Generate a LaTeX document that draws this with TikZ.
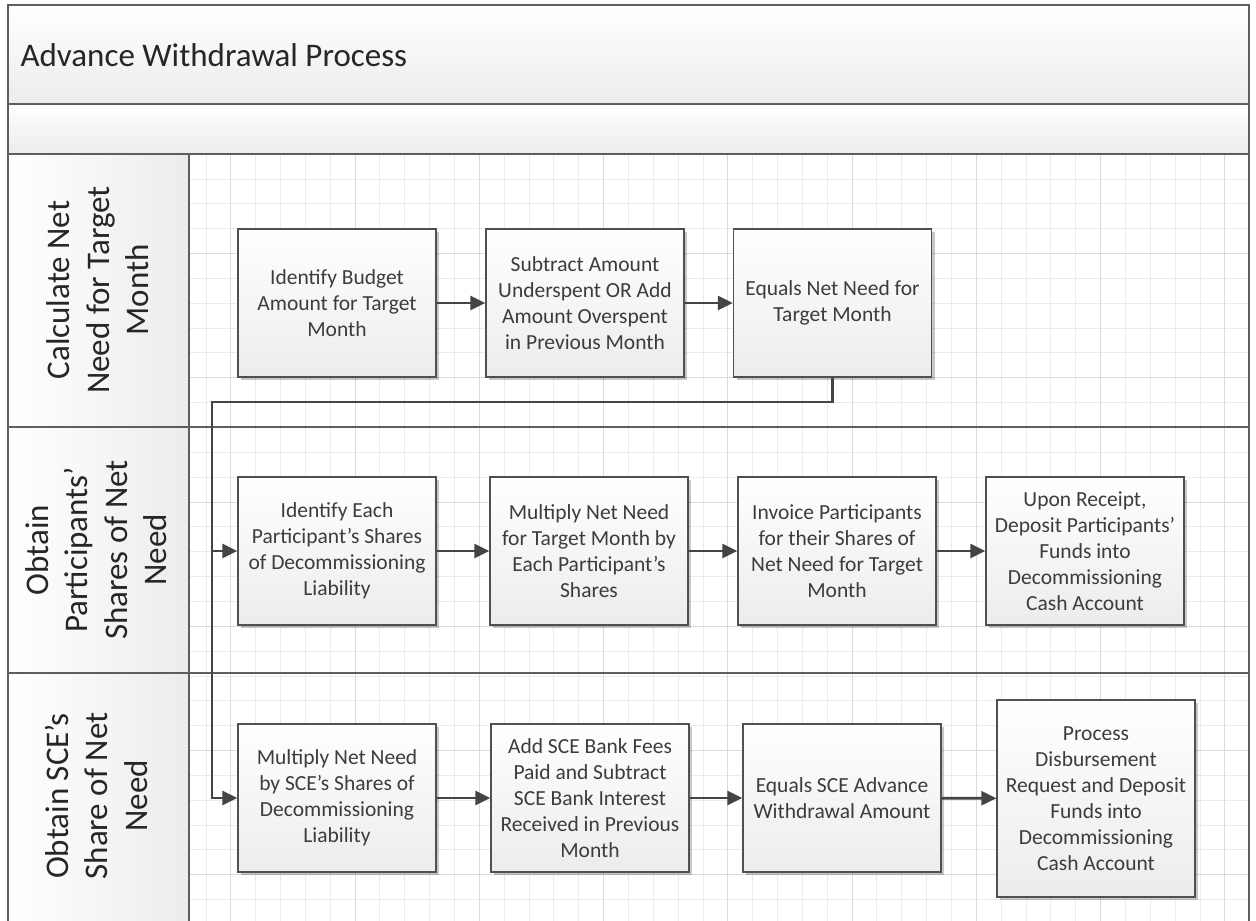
\documentclass[tikz,border=0pt]{standalone}
\usepackage{fontspec}
\setmainfont{Carlito}
\usetikzlibrary{shadows,arrows.meta}
\definecolor{framec}{HTML}{5E5E5E}
\definecolor{gridminor}{HTML}{EBEBEB}
\definecolor{gridmajor}{HTML}{DADADA}
\definecolor{boxline}{HTML}{505050}
\definecolor{boxtext}{HTML}{3C3C3C}
\definecolor{lanetext}{HTML}{262626}
\definecolor{fadegray}{HTML}{ECECEC}
\definecolor{connc}{HTML}{444444}
\tikzset{
  frameline/.style={draw=framec, line width=1.4pt},
  band/.style={frameline, top color=white, bottom color=fadegray},
  lanehead/.style={frameline, left color=white, right color=fadegray},
  lanelabel/.style={rotate=90, align=center, text=lanetext, font=\fontsize{33}{39.5}\selectfont},
  stepbox/.style={draw=boxline, line width=1.4pt, top color=white, bottom color=fadegray,
    minimum width=198pt, minimum height=148pt, inner sep=0pt, align=center, text=boxtext,
    font=\fontsize{21.5}{26}\selectfont,
    drop shadow={shadow xshift=3pt, shadow yshift=-3pt, opacity=0.22, fill=black}},
  conn/.style={draw=connc, line width=2.6pt, -{Triangle[length=15pt,width=14pt]}},
  connplain/.style={draw=connc, line width=2.6pt}
}
\begin{document}
\begin{tikzpicture}[x=1pt,y=-1pt]
\useasboundingbox (0,0) rectangle (1256,921);
\fill[white] (0,0) rectangle (1256,921);
% grid
\foreach \i in {0,...,41} {\draw[gridminor, line width=1pt] ({206+24.85*\i},154) -- ({206+24.85*\i},921);}
\foreach \i in {0,...,29} {\draw[gridminor, line width=1pt] (189,{179+24.85*\i}) -- (1249,{179+24.85*\i});}
\foreach \i in {0,...,8} {\draw[gridmajor, line width=1pt] ({230.85+124.25*\i},154) -- ({230.85+124.25*\i},921);}
\foreach \i in {0,...,5} {\draw[gridmajor, line width=1pt] (189,{253.55+124.25*\i}) -- (1249,{253.55+124.25*\i});}
% header bands
\path[band] (8,5) rectangle (1249,104);
\path[band] (8,104) rectangle (1249,154);
\node[anchor=west, text=lanetext, font=\fontsize{33}{39}\selectfont] (title) at (17,55) {Advance Withdrawal Process};
% lane heads
\path[lanehead] (8,154) rectangle (189,427);
\path[lanehead] (8,427) rectangle (189,673);
\path[lanehead] (8,673) rectangle (189,925);
\draw[frameline] (189,427) -- (1249,427);
\draw[frameline] (189,673) -- (1249,673);
\draw[frameline] (1249,154) -- (1249,925);
\node[lanelabel] (l1) at (98,290) {Calculate Net\\Need for Target\\Month};
\node[lanelabel] (l2) at (96,550) {Obtain\\Participants’\\Shares of Net\\Need};
\node[lanelabel] (l3) at (96,796) {Obtain SCE’s\\Share of Net\\Need};
% boxes row 1
\node[stepbox] (b11) at (337,303) {Identify Budget\\Amount for Target\\Month};
\node[stepbox] (b12) at (585,303) {Subtract Amount\\Underspent OR Add\\Amount Overspent\\in Previous Month};
\node[stepbox] (b13) at (832.5,303) {Equals Net Need for\\Target Month};
% row 2
\node[stepbox] (b21) at (337,551) {Identify Each\\Participant’s Shares\\of Decommissioning\\Liability};
\node[stepbox] (b22) at (589,551) {Multiply Net Need\\for Target Month by\\Each Participant’s\\Shares};
\node[stepbox] (b23) at (837,551) {Invoice Participants\\for their Shares of\\Net Need for Target\\Month};
\node[stepbox] (b24) at (1085,551) {Upon Receipt,\\Deposit Participants’\\Funds into\\Decommissioning\\Cash Account};
% row 3
\node[stepbox] (b31) at (337,798) {Multiply Net Need\\by SCE’s Shares of\\Decommissioning\\Liability};
\node[stepbox] (b32) at (590,798) {Add SCE Bank Fees\\Paid and Subtract\\SCE Bank Interest\\Received in Previous\\Month};
\node[stepbox] (b33) at (842,798) {Equals SCE Advance\\Withdrawal Amount};
\node[stepbox, minimum height=197pt] (b34) at (1096,798.5) {Process\\Disbursement\\Request and Deposit\\Funds into\\Decommissioning\\Cash Account};
% connectors
\draw[conn] (b11) -- (b12);
\draw[conn] (b12) -- (b13);
\draw[conn] (b21) -- (b22);
\draw[conn] (b22) -- (b23);
\draw[conn] (b23) -- (b24);
\draw[conn] (b31) -- (b32);
\draw[conn] (b32) -- (b33);
\draw[conn] (b33) -- (b34);
\coordinate (j1) at (212,402);
\draw[conn] (b13.south) |- (j1) |- (b21.west);
\draw[conn] (j1) |- (b31.west);
\end{tikzpicture}
\end{document}
